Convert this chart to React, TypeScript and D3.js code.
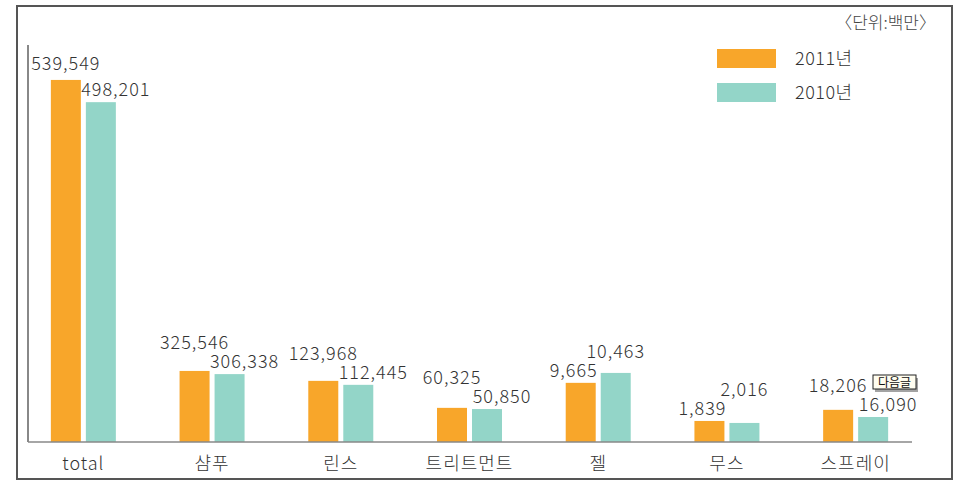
import React from "react";
import * as d3 from "d3";

const categories = ["total", "샴푸", "린스", "트리트먼트", "젤", "무스", "스프레이"];
const series = ["2011년", "2010년"];
const values2011 = [539549, 325546, 123968, 60325, 9665, 1839, 18206];
const values2010 = [498201, 306338, 112445, 50850, 10463, 2016, 16090];
// drawn bar length (percent of the axis height; the original is not to scale)
const drawn2011 = [91.2, 17.9, 15.4, 8.6, 14.9, 5.3, 8.1];
const drawn2010 = [85.6, 17.1, 14.4, 8.3, 17.4, 4.8, 6.3];
const unitLabel = "〈단위:백만〉";
const tooltipLabel = "다음글";

const W = 958;
const H = 483;
const colors = ["#F8A62A", "#93D5C8"];
const FONT = "'Noto Sans CJK KR', 'Noto Sans', sans-serif";
const fmt = d3.format(",");

export default function App() {
  const x = d3.scaleBand<string>().domain(categories).range([19, 920]).padding(0);
  const xi = d3.scaleBand<string>().domain(series).range([-32.5, 32.5]).paddingInner(0.143);
  const y = d3.scaleLinear().domain([0, 100]).range([442, 45]);

  const groups = categories.map((c, i) => {
    const cx = (x(c) as number) + x.bandwidth() / 2;
    const vals = [values2011[i], values2010[i]];
    const drawn = [drawn2011[i], drawn2010[i]];
    const tops = drawn.map((d) => y(d));
    const minTop = Math.min(...tops);
    const hi = vals[0] >= vals[1] ? 0 : 1;
    const lo = 1 - hi;
    const lowY = tops[lo] - 6;
    const highY = Math.min(minTop - 10, lowY - 19);
    const bars = series.map((s, j) => {
      const bx = cx + (xi(s) as number);
      const bw = xi.bandwidth();
      const isHi = j === hi;
      const lx = bx + bw / 2 + (isHi ? 0 : j === 1 ? 15 : -7);
      const ly = isHi ? highY : lowY;
      return { s, j, bx, bw, top: tops[j], label: fmt(vals[j]), lx, ly };
    });
    return { c, cx, bars };
  });

  return (
    <svg
      width={W}
      height={H}
      style={{ position: "absolute", left: 0, top: 0, background: "#fff" }}
      fontFamily={FONT}
    >
      <rect x={17} y={6} width={935} height={473} fill="#fff" stroke="#555" strokeWidth={2} />
      <text x={936} y={29} textAnchor="end" fontSize={17} fill="#444" fontWeight={300}>
        {unitLabel}
      </text>
      {series.map((s, j) => (
        <g key={s}>
          <rect x={717} y={49 + j * 34} width={59} height={19} fill={colors[j]} />
          <text x={795} y={65 + j * 34} fontSize={18} fill="#333" fontWeight={300} letterSpacing={0.5}>
            {s}
          </text>
        </g>
      ))}
      <line x1={28} x2={28} y1={45} y2={y(0)} stroke="#888" strokeWidth={2} />
      {groups.map((g) => (
        <g key={g.c}>
          {g.bars.map((b) => (
            <rect key={b.s} x={b.bx} y={b.top} width={b.bw} height={y(0) - b.top} fill={colors[b.j]} />
          ))}
          {g.bars.map((b) => (
            <text
              key={"t" + b.s}
              x={b.lx}
              y={b.ly}
              textAnchor="middle"
              fontSize={18}
              fill="#333"
              fontWeight={300}
              letterSpacing={1}
            >
              {b.label}
            </text>
          ))}
          <text
            x={g.cx}
            y={470}
            textAnchor="middle"
            fontSize={18}
            fill="#333"
            fontWeight={300}
            letterSpacing={1}
          >
            {g.c}
          </text>
        </g>
      ))}
      <line x1={28} x2={912} y1={y(0)} y2={y(0)} stroke="#888" strokeWidth={1.5} />
      <g>
        <rect x={875} y={378} width={43} height={14} fill="#666" opacity={0.6} />
        <rect x={873} y={375} width={43} height={14} fill="#fffdf0" stroke="#222" strokeWidth={1} />
        <text x={894.5} y={386.5} textAnchor="middle" fontSize={12} fill="#111">
          {tooltipLabel}
        </text>
      </g>
    </svg>
  );
}
